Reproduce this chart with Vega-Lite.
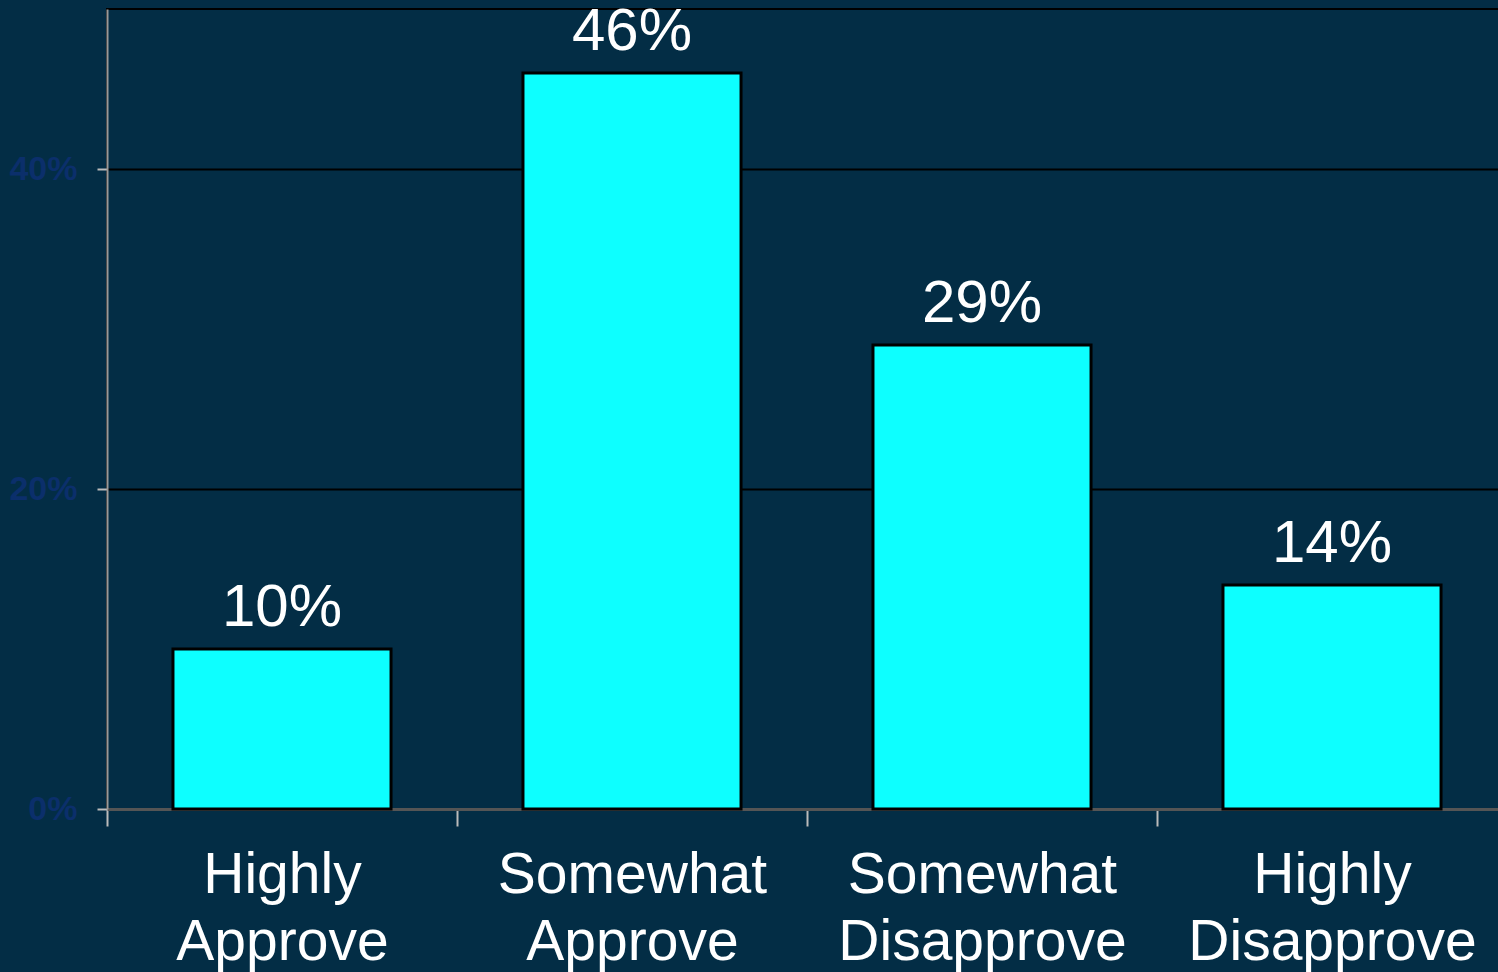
{
  "$schema": "https://vega.github.io/schema/vega-lite/v6.json",
  "autosize": "none",
  "width": 1400,
  "height": 800,
  "padding": {"left": 107, "top": 9, "right": 0, "bottom": 163},
  "background": "#032D45",
  "config": {
    "view": {"stroke": "#000000", "strokeWidth": 2},
    "font": "Liberation Sans"
  },
  "data": {
    "values": [
      {"category": "Highly Approve", "value": 0.10},
      {"category": "Somewhat Approve", "value": 0.46},
      {"category": "Somewhat Disapprove", "value": 0.29},
      {"category": "Highly Disapprove", "value": 0.14}
    ]
  },
  "encoding": {
    "x": {
      "field": "category",
      "type": "nominal",
      "sort": null,
      "scale": {"paddingInner": 0.377, "paddingOuter": 0.1885},
      "axis": {
        "title": null,
        "labelAngle": 0,
        "labelExpr": "split(datum.label, ' ')",
        "labelFontSize": 57,
        "labelColor": "#FFFFFF",
        "labelLineHeight": 67,
        "labelPadding": 21,
        "labelBaseline": "top",
        "labelLimit": 0,
        "tickOffset": -175,
        "labelOffset": 175,
        "tickColor": "#BBBBBB",
        "tickSize": 17,
        "tickWidth": 2,
        "domainColor": "#555555",
        "domainWidth": 3,
        "grid": false
      }
    },
    "y": {
      "field": "value",
      "type": "quantitative",
      "scale": {"domain": [0, 0.5], "nice": false},
      "axis": {
        "title": null,
        "values": [0, 0.2, 0.4],
        "format": ".0%",
        "labelFontSize": 34,
        "labelFontWeight": "bold",
        "labelColor": "#0B2F6B",
        "labelPadding": 20,
        "tickColor": "#BBBBBB",
        "tickSize": 10,
        "tickWidth": 2,
        "domainColor": "#999999",
        "domainWidth": 2,
        "grid": true,
        "gridColor": "#000000",
        "gridWidth": 2
      }
    }
  },
  "layer": [
    {
      "mark": {"type": "bar", "color": "#0DFFFF", "stroke": "#000000", "strokeWidth": 3}
    },
    {
      "mark": {"type": "text", "baseline": "alphabetic", "dy": -23, "fontSize": 60, "color": "#FFFFFF"},
      "encoding": {
        "text": {"field": "value", "type": "quantitative", "format": ".0%"}
      }
    }
  ]
}
